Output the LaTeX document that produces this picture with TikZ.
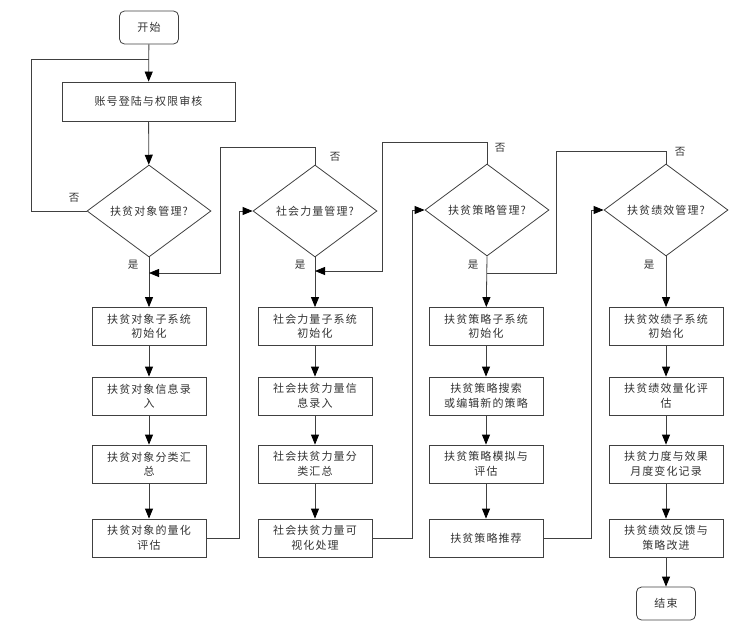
\documentclass[tikz,border=0pt]{standalone}
\usepackage{fontspec}
\setmainfont{Noto Sans CJK SC}[LetterSpace=10]
\usetikzlibrary{shapes.geometric,arrows.meta}
\begin{document}
\begin{tikzpicture}[x=1pt,y=-1pt,
  every node/.style={font=\fontsize{11}{14.5}\selectfont, text=black!80},
  line/.style={draw=black!75, line width=0.8pt},
  arr/.style={line, -{Triangle[length=10pt,width=8pt,fill=black,color=black]}},
  stepbox/.style={draw=black!75, line width=0.8pt, rectangle, minimum width=114pt, minimum height=38pt, inner sep=1pt, align=center},
  termbox/.style={draw=black!75, line width=0.8pt, rectangle, rounded corners=5pt, minimum width=59pt, minimum height=33pt, inner sep=1pt},
  decide/.style={draw=black!75, line width=0.8pt, diamond, shape aspect=1.35, minimum width=124pt, minimum height=92pt, inner sep=0pt},
  lbl/.style={inner sep=0pt, font=\fontsize{10.5}{12}\selectfont}]
\useasboundingbox (0,0) rectangle (751,637);

% nodes
\node[termbox] (start) at (149,27.5) {开始};
\node[stepbox, minimum width=173pt, minimum height=39pt] (login) at (148.5,101.5) {账号登陆与权限审核};

\node[decide] (d1) at (149,211) {扶贫对象管理?};
\node[decide] (d2) at (315,211) {社会力量管理?};
\node[decide] (d3) at (487,210) {扶贫策略管理?};
\node[decide] (d4) at (666,210) {扶贫绩效管理?};

\node[stepbox] (a1) at (149,326.5) {扶贫对象子系统\\初始化};
\node[stepbox] (a2) at (149,396) {扶贫对象信息录\\入};
\node[stepbox] (a3) at (149,464) {扶贫对象分类汇\\总};
\node[stepbox] (a4) at (149,538) {扶贫对象的量化\\评估};

\node[stepbox] (b1) at (315,326.5) {社会力量子系统\\初始化};
\node[stepbox] (b2) at (315,396) {社会扶贫力量信\\息录入};
\node[stepbox] (b3) at (315,464) {社会扶贫力量分\\类汇总};
\node[stepbox] (b4) at (315,538) {社会扶贫力量可\\视化处理};

\node[stepbox] (c1) at (486,326.5) {扶贫策略子系统\\初始化};
\node[stepbox] (c2) at (486,396) {扶贫策略搜索\\或编辑新的策略};
\node[stepbox] (c3) at (486,464) {扶贫策略模拟与\\评估};
\node[stepbox] (c4) at (486,538) {扶贫策略推荐};

\node[stepbox] (e1) at (666,326.5) {扶贫效绩子系统\\初始化};
\node[stepbox] (e2) at (666,396) {扶贫绩效量化评\\估};
\node[stepbox] (e3) at (666,464) {扶贫力度与效果\\月度变化记录};
\node[stepbox] (e4) at (666,538) {扶贫绩效反馈与\\策略改进};

\node[termbox] (end) at (666,603.5) {结束};

% labels
\node[lbl] (n1) at (74,198) {否};
\node[lbl] (y1) at (133,265) {是};
\node[lbl] (n2) at (335,157) {否};
\node[lbl] (y2) at (300,265) {是};
\node[lbl] (n3) at (500,148) {否};
\node[lbl] (y3) at (473,265) {是};
\node[lbl] (n4) at (680,152) {否};
\node[lbl] (y4) at (649,265) {是};

% junction coordinates
\coordinate (j0) at (149,59);
\coordinate (j1) at (149,273);
\coordinate (j2) at (315,271);
\coordinate (j3) at (487,273);

% main flow
\draw[arr] (start) -- (login);
\draw[line] (d1.west) -- (31,211) -- (31,59) -- (j0);
\draw[arr] (login) -- (d1);
\draw[arr] (d1.south) -- (a1);
\draw[arr] (a1) -- (a2);
\draw[arr] (a2) -- (a3);
\draw[arr] (a3) -- (a4);

\draw[arr] (d2.north) -- (315,147) -- (220,147) -- (220,273) -- (j1);
\draw[arr] (a4.east) -- (239,538) -- (239,211) -- (d2.west);

\draw[arr] (d2.south) -- (b1);
\draw[arr] (b1) -- (b2);
\draw[arr] (b2) -- (b3);
\draw[arr] (b3) -- (b4);

\draw[arr] (d3.north) -- (487,142) -- (382,142) -- (382,271) -- (j2);
\draw[arr] (b4.east) -- (412,538) -- (412,210) -- (d3.west);

\draw[arr] (d3.south) -- (c1);
\draw[arr] (c1) -- (c2);
\draw[arr] (c2) -- (c3);
\draw[arr] (c3) -- (c4);

\draw[line] (d4.north) -- (666,151) -- (556,151) -- (556,273) -- (j3);
\draw[arr] (c4.east) -- (591,538) -- (591,210) -- (d4.west);

\draw[arr] (d4.south) -- (e1);
\draw[arr] (e1) -- (e2);
\draw[arr] (e2) -- (e3);
\draw[arr] (e3) -- (e4);
\draw[arr] (e4) -- (end);
\end{tikzpicture}
\end{document}
